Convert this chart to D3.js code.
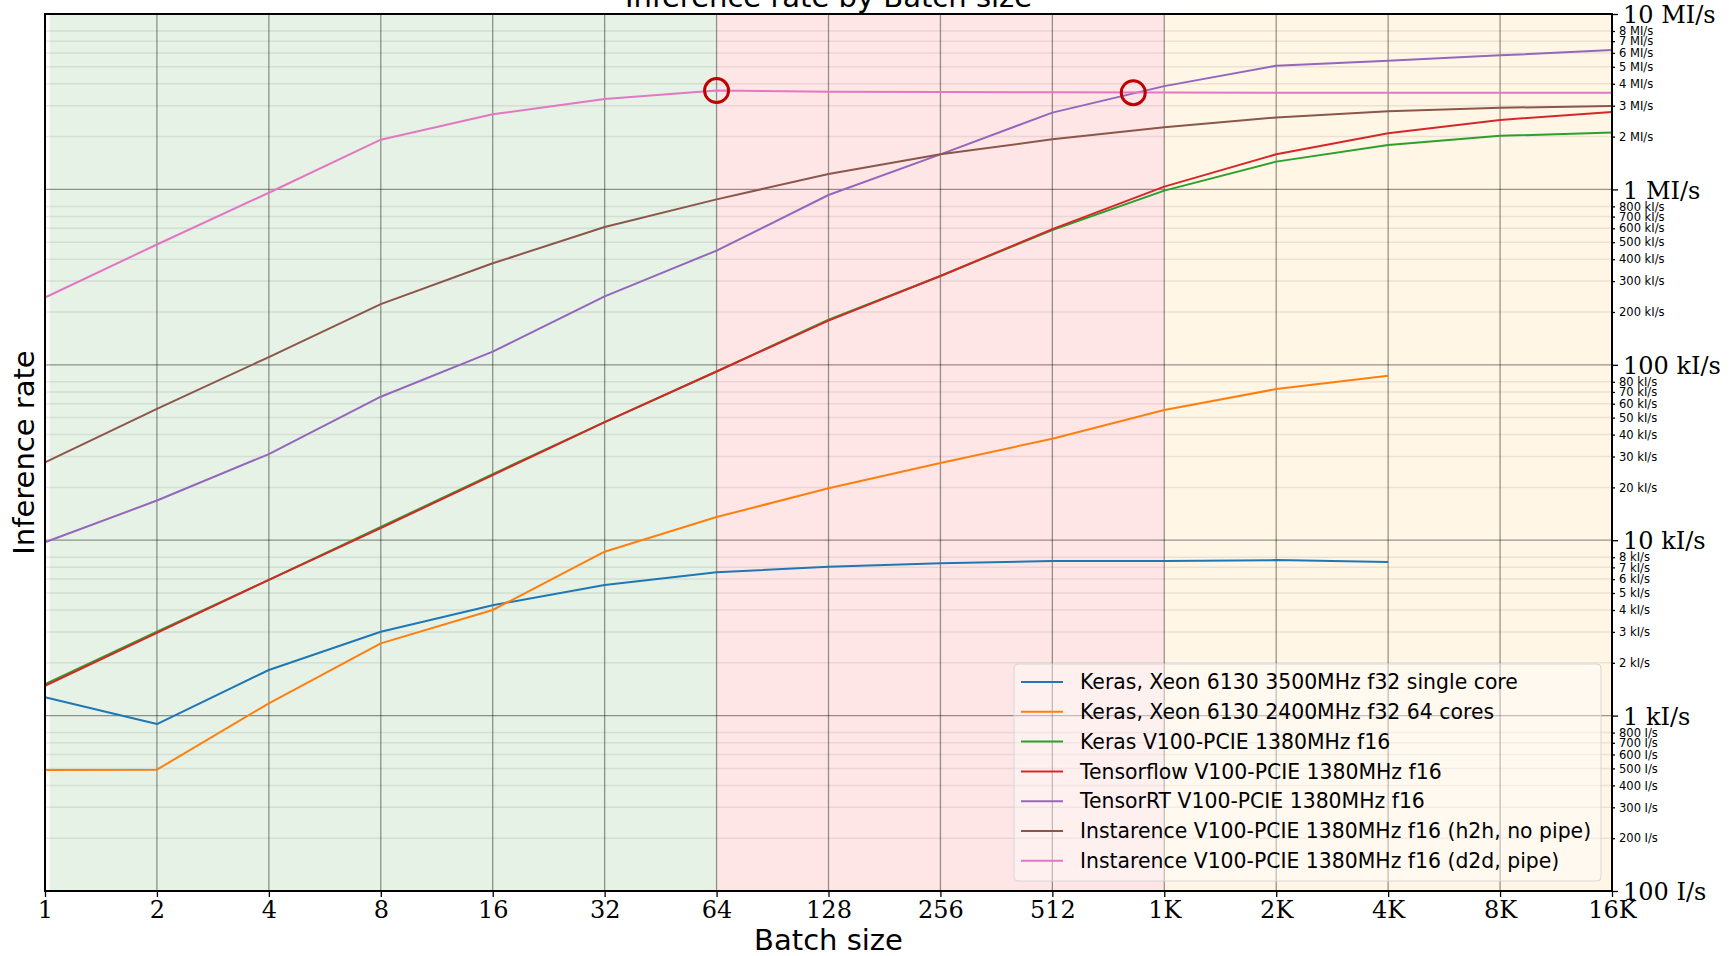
<!DOCTYPE html>
<html>
<head>
<meta charset="utf-8">
<script src="https://cdn.jsdelivr.net/npm/d3@7"></script>
<style>
    body { margin: 0; background: #fff; }
    svg { display: block; }
    .x-axis text, .y-major text { font-family: 'DejaVu Serif', serif; fill: #000; }
    .y-minor text { font-family: 'DejaVu Sans', sans-serif; fill: #000; }
</style>
</head>
<body>
<svg id="chart" width="1729" height="956"></svg>
<script>
/**
 * Data: inference rate (inferences / s) by batch size.
 */
const batchSizes = [1, 2, 4, 8, 16, 32, 64, 128, 256, 512, 1024, 2048, 4096, 8192, 16384];

const seriesLabels = [
    'Keras, Xeon 6130 3500MHz f32 single core',
    'Keras, Xeon 6130 2400MHz f32 64 cores',
    'Keras V100-PCIE 1380MHz f16',
    'Tensorflow V100-PCIE 1380MHz f16',
    'TensorRT V100-PCIE 1380MHz f16',
    'Instarence V100-PCIE 1380MHz f16 (h2h, no pipe)',
    'Instarence V100-PCIE 1380MHz f16 (d2d, pipe)'
];
const seriesColors = ['#1f77b4', '#ff7f0e', '#2ca02c', '#d62728', '#9467bd', '#8c564b', '#e377c2'];

// CPU runs stop at 4K
const kerasXeonSingle = [1272, 895, 1820, 3006, 4260, 5560, 6560, 7060, 7380, 7600, 7620, 7700, 7500];
const kerasXeon64 = [490, 492, 1175, 2580, 4000, 8600, 13550, 19760, 27560, 37900, 55250, 72700, 86500];
const kerasV100 = [1510, 3006, 5940, 11890, 23830, 47100, 91600, 181000, 321000, 587000, 984000, 1440000, 1790000, 2020000, 2110000];
const tensorflowV100 = [1480, 2960, 5940, 11730, 23500, 47100, 91600, 178600, 321000, 594000, 1037000, 1585000, 2090000, 2490000, 2760000];
const tensorrtV100 = [9730, 16830, 30970, 65770, 118900, 245500, 448000, 929000, 1585000, 2740000, 3880000, 5070000, 5420000, 5810000, 6230000];
const instarenceH2h = [27800, 56000, 110700, 221800, 379000, 611000, 877000, 1224000, 1585000, 1930000, 2260000, 2570000, 2790000, 2920000, 2990000];
const instarenceD2d = [242000, 485000, 957000, 1920000, 2680000, 3280000, 3660000, 3600000, 3590000, 3580000, 3570000, 3560000, 3560000, 3560000, 3560000];

const seriesValues = [kerasXeonSingle, kerasXeon64, kerasV100, tensorflowV100, tensorrtV100, instarenceH2h, instarenceD2d];

// Highlighted points (red rings)
const markerBatches = [64, 845];
const markerRates = [3660000, 3560000];

// Shaded batch-size ranges
const spanStarts = [1.03, 64, 1024];
const spanEnds = [64, 1024, 16384];
const spanColors = ['rgb(230,242,230)', 'rgb(255,230,230)', 'rgb(255,246,230)'];

const majorRates = [100, 1e3, 1e4, 1e5, 1e6, 1e7];
const minorRates = [];
majorRates.slice(0, -1).forEach(d => {
    for (let k = 2; k <= 8; k++) minorRates.push(d * k);
});

/**
 * Visual configs.
 */
const margin = { top: 14, right: 117, bottom: 65, left: 45 },
    visWidth = 1729, visHeight = 956,
    width = visWidth - margin.left - margin.right,
    height = visHeight - margin.top - margin.bottom;

const xScale = d3.scaleLog().base(2).domain([1, 16384]).range([0, width]);
const yScale = d3.scaleLog().domain([100, 1e7]).range([height, 0]);

function batchFormat(v) {
    return v >= 1024 ? (v / 1024) + 'K' : String(v);
}

function rateFormat(v) {
    if (v >= 1e6) return Math.round(v / 1e6) + ' MI/s';
    if (v >= 1e3) return Math.round(v / 1e3) + ' kI/s';
    return Math.round(v) + ' I/s';
}

const svg = d3.select('#chart');
const g = svg.append('g').attr('transform', 'translate(' + margin.left + ',' + margin.top + ')');

// Background spans
g.append('g').attr('class', 'spans').selectAll('rect')
    .data(spanStarts)
    .join('rect')
    .attr('x', d => xScale(d))
    .attr('y', 0)
    .attr('width', (d, i) => xScale(spanEnds[i]) - xScale(d))
    .attr('height', height)
    .attr('fill', (d, i) => spanColors[i]);

// Grid
const grid = g.append('g').attr('class', 'grid');
grid.selectAll('.minor')
    .data(minorRates)
    .join('line')
    .attr('class', 'minor')
    .attr('x1', 0).attr('x2', width)
    .attr('y1', d => yScale(d)).attr('y2', d => yScale(d))
    .attr('stroke', '#000').attr('stroke-opacity', 0.08).attr('stroke-width', 1.5);
grid.selectAll('.major-y')
    .data(majorRates)
    .join('line')
    .attr('class', 'major-y')
    .attr('x1', 0).attr('x2', width)
    .attr('y1', d => yScale(d)).attr('y2', d => yScale(d))
    .attr('stroke', '#000').attr('stroke-opacity', 0.4).attr('stroke-width', 1.3);
grid.selectAll('.major-x')
    .data(batchSizes)
    .join('line')
    .attr('class', 'major-x')
    .attr('x1', d => xScale(d)).attr('x2', d => xScale(d))
    .attr('y1', 0).attr('y2', height)
    .attr('stroke', '#000').attr('stroke-opacity', 0.4).attr('stroke-width', 1.3);

// Series lines
const line = d3.line()
    .x((d, i) => xScale(batchSizes[i]))
    .y(d => yScale(d));

g.append('g').attr('class', 'series').selectAll('path')
    .data(seriesValues)
    .join('path')
    .attr('d', line)
    .attr('fill', 'none')
    .attr('stroke', (d, i) => seriesColors[i])
    .attr('stroke-width', 2)
    .attr('stroke-linejoin', 'round');

// Red rings
g.append('g').attr('class', 'markers').selectAll('circle')
    .data(markerBatches)
    .join('circle')
    .attr('cx', d => xScale(d))
    .attr('cy', (d, i) => yScale(markerRates[i]))
    .attr('r', 12)
    .attr('fill', 'none')
    .attr('stroke', '#bf0000')
    .attr('stroke-width', 3);

// Axes
const xAxis = d3.axisBottom(xScale)
    .tickValues(batchSizes)
    .tickFormat(batchFormat)
    .tickSize(6)
    .tickPadding(4);
const xAxisContainer = g.append('g').attr('class', 'x-axis')
    .attr('transform', 'translate(0,' + height + ')')
    .call(xAxis);
xAxisContainer.selectAll('text').attr('font-size', 24);

const yMajor = d3.axisRight(yScale)
    .tickValues(majorRates)
    .tickFormat(rateFormat)
    .tickSize(6)
    .tickPadding(5);
const yMajorContainer = g.append('g').attr('class', 'y-major')
    .attr('transform', 'translate(' + width + ',0)')
    .call(yMajor);
yMajorContainer.selectAll('text').attr('font-size', 24).attr('dy', '0.36em');

const yMinor = d3.axisRight(yScale)
    .tickValues(minorRates)
    .tickFormat(rateFormat)
    .tickSize(3)
    .tickPadding(4);
const yMinorContainer = g.append('g').attr('class', 'y-minor')
    .attr('transform', 'translate(' + width + ',0)')
    .call(yMinor);
yMinorContainer.selectAll('text').attr('font-size', 11.5);

[xAxisContainer, yMajorContainer, yMinorContainer].forEach(c => {
    c.select('.domain').remove();
    c.selectAll('line').attr('stroke', '#000').attr('stroke-width', 1.3);
});

// Frame
g.append('rect')
    .attr('width', width).attr('height', height)
    .attr('fill', 'none').attr('stroke', '#000').attr('stroke-width', 2);

// Legend
const legend = g.append('g').attr('class', 'legend')
    .attr('transform', 'translate(' + (1014 - margin.left) + ',' + (664 - margin.top) + ')');
legend.append('rect')
    .attr('width', 587).attr('height', 217).attr('rx', 4)
    .attr('fill', '#fff').attr('fill-opacity', 0.4)
    .attr('stroke', '#d6d6d6').attr('stroke-width', 1);
const items = legend.selectAll('.item')
    .data(seriesLabels)
    .join('g')
    .attr('class', 'item')
    .attr('transform', (d, i) => 'translate(0,' + (18 + i * 29.8) + ')');
items.append('line')
    .attr('x1', 7).attr('x2', 49)
    .attr('stroke', (d, i) => seriesColors[i]).attr('stroke-width', 2);
items.append('text')
    .attr('x', 66).attr('dy', '0.35em')
    .attr('font-family', "'DejaVu Sans', sans-serif").attr('font-size', 20.4)
    .attr('fill', '#000')
    .text(d => d);

// Titles
svg.append('text')
    .attr('x', margin.left + width / 2).attr('y', 7)
    .attr('text-anchor', 'middle')
    .attr('font-family', "'DejaVu Sans', sans-serif").attr('font-size', 29)
    .text('Inference rate by Batch size');

svg.append('text')
    .attr('x', margin.left + width / 2).attr('y', 950)
    .attr('text-anchor', 'middle')
    .attr('font-family', "'DejaVu Sans', sans-serif").attr('font-size', 29)
    .text('Batch size');

svg.append('text')
    .attr('transform', 'translate(33.5,' + (margin.top + height / 2) + ') rotate(-90)')
    .attr('text-anchor', 'middle')
    .attr('font-family', "'DejaVu Sans', sans-serif").attr('font-size', 29)
    .text('Inference rate');
</script>
</body>
</html>
